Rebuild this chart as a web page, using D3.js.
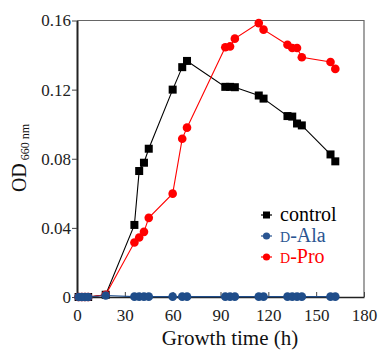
<!DOCTYPE html>
<html>
<head>
<meta charset="utf-8">
<script src="https://cdn.jsdelivr.net/npm/d3@7"></script>
<style>
  body { margin: 0; background: #fff; }
</style>
</head>
<body>
<div id="chart"></div>
<script>
// data
const time    = [1, 3, 5, 7, 18, 36, 39, 42, 45, 60, 66, 69, 93, 96, 99, 114, 117, 132, 135, 138, 141, 159, 162];
const control = [0, 0, 0, 0, 0.0013, 0.0417, 0.0729, 0.0777, 0.0858, 0.120, 0.133, 0.1366, 0.1216, 0.1216, 0.1214, 0.1166, 0.1148, 0.1047, 0.1044, 0.1004, 0.0993, 0.0825, 0.0785];
const dAla    = [0, 0, 0, 0, 0.0009, 0.0002, 0.0002, 0.0002, 0.0002, 0.0002, 0.0002, 0.0002, 0.0002, 0.0002, 0.0002, 0.0002, 0.0002, 0.0002, 0.0002, 0.0002, 0.0002, 0.0002, 0.0002];
const dPro    = [0, 0, 0, 0, 0.0013, 0.0315, 0.0344, 0.0377, 0.0458, 0.0598, 0.0916, 0.098, 0.1445, 0.145, 0.1495, 0.1585, 0.1547, 0.146, 0.1441, 0.1441, 0.1387, 0.136, 0.132];
const xTicks  = [0, 30, 60, 90, 120, 150, 180];
const yTicks  = [0, 0.04, 0.08, 0.12, 0.16];

const width = 382, height = 350;
const margin = ({top: 20.5, right: 18, bottom: 53, left: 77});
const serif = "'Liberation Serif', 'DejaVu Serif', 'Times New Roman', Times, serif";

const svg = d3.select("#chart").append("svg")
    .attr("width", width)
    .attr("height", height)
    .style("font-family", serif);

const xScale = d3.scaleLinear().domain([0, 180]).range([margin.left, width - margin.right]);
const yScale = d3.scaleLinear().domain([0, 0.16]).range([height - margin.bottom, margin.top]);

// frame (top + right are thin grey)
svg.append("path")
    .attr("d", `M${xScale(0)},${yScale(0.16)}H${xScale(180)}V${yScale(0)}`)
    .attr("fill", "none")
    .attr("stroke", "#666")
    .attr("stroke-width", 1.2);

const xAxis = d3.axisBottom(xScale).tickValues(xTicks).tickSizeInner(-5).tickSizeOuter(0).tickPadding(12);
const yAxis = d3.axisLeft(yScale).tickValues(yTicks).tickSizeInner(5).tickSizeOuter(0).tickPadding(1)
    .tickFormat(d => d === 0 ? "0" : d3.format(".2f")(d));

svg.append("g")
    .attr("transform", `translate(0,${yScale(0)})`)
    .call(xAxis)
    .attr("font-family", serif)
    .attr("font-size", 17)
    .call(g => g.select(".domain").attr("stroke", "#222").attr("stroke-width", 1.5))
    .call(g => g.selectAll(".tick line").attr("stroke", "#444"))
    .call(g => g.selectAll("text").attr("fill", "#222"));

svg.append("g")
    .attr("transform", `translate(${xScale(0)},0)`)
    .call(yAxis)
    .attr("font-family", serif)
    .attr("font-size", 17)
    .call(g => g.select(".domain").attr("stroke", "#222").attr("stroke-width", 2))
    .call(g => g.selectAll(".tick line").attr("stroke", "#444"))
    .call(g => g.selectAll("text").attr("fill", "#222"));

// axis titles
svg.append("text")
    .attr("x", 230)
    .attr("y", 345)
    .attr("text-anchor", "middle")
    .attr("font-family", serif)
    .attr("font-size", 21)
    .attr("fill", "#111")
    .text("Growth time (h)");

const ylab = svg.append("text")
    .attr("transform", "translate(26,158) rotate(-90)")
    .attr("text-anchor", "middle")
    .attr("font-family", serif)
    .attr("fill", "#111");
ylab.append("tspan").attr("font-size", 20).text("OD");
ylab.append("tspan").attr("font-size", 12).attr("dy", 3).text(" 660 nm");

// series
const series = [
    {name: "control", values: control, color: "#000", shape: "square"},
    {name: "D-Pro", values: dPro, color: "#ff0000", shape: "circle"},
    {name: "D-Ala", values: dAla, color: "#1f4d8a", shape: "circle"}
];

const line = d3.line()
    .x(d => xScale(d[0]))
    .y(d => yScale(d[1]));

series.forEach(s => {
    const pts = time.map((t, i) => [t, s.values[i]]);
    const g = svg.append("g");
    g.append("path")
        .attr("d", line(pts))
        .attr("fill", "none")
        .attr("stroke", s.color)
        .attr("stroke-width", 1.1);
    if (s.shape === "square") {
        g.selectAll("rect").data(pts).join("rect")
            .attr("x", d => xScale(d[0]) - 4)
            .attr("y", d => yScale(d[1]) - 4)
            .attr("width", 8)
            .attr("height", 8)
            .attr("fill", s.color);
    } else {
        g.selectAll("circle").data(pts).join("circle")
            .attr("cx", d => xScale(d[0]))
            .attr("cy", d => yScale(d[1]))
            .attr("r", 4.3)
            .attr("fill", s.color);
    }
});

// legend
const legend = [
    {label: "control", color: "#000", shape: "square", y: 215},
    {prefix: "D", label: "-Ala", color: "#2a5592", shape: "circle", y: 236},
    {prefix: "D", label: "-Pro", color: "#ff0000", shape: "circle", y: 257}
];
legend.forEach(l => {
    const g = svg.append("g").attr("transform", `translate(0,${l.y})`);
    g.append("line").attr("x1", 261).attr("x2", 272).attr("stroke", l.color).attr("stroke-width", 1.2);
    if (l.shape === "square") {
        g.append("rect").attr("x", 263).attr("y", -3.5).attr("width", 7).attr("height", 7).attr("fill", l.color);
    } else {
        g.append("circle").attr("cx", 266.5).attr("r", 3.6).attr("fill", l.color);
    }
    const t = g.append("text").attr("x", 280).attr("y", 6).attr("fill", l.color)
        .attr("font-family", serif).attr("font-size", 20);
    if (l.prefix) t.append("tspan").attr("font-size", 14).text(l.prefix);
    t.append("tspan").text(l.label);
});
</script>
</body>
</html>
